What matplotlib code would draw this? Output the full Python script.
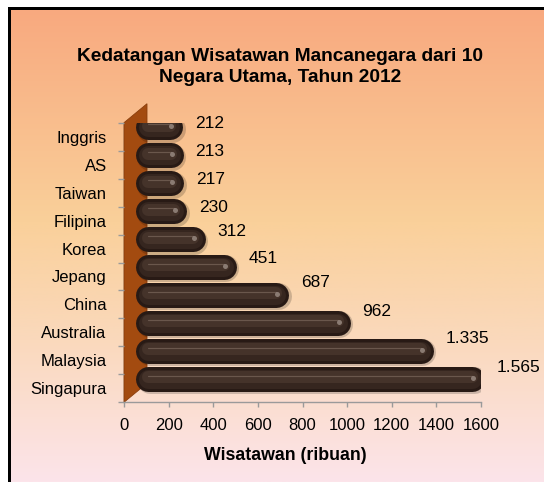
import matplotlib
matplotlib.use("Agg")
import matplotlib.pyplot as plt
import numpy as np
from matplotlib.colors import LinearSegmentedColormap
from matplotlib.patches import Polygon, Rectangle

OUT_PATH = "out.png"

# data, top to bottom as in the chart
countries = ["Inggris", "AS", "Taiwan", "Filipina", "Korea",
             "Jepang", "China", "Australia", "Malaysia", "Singapura"]
visitors = [212, 213, 217, 230, 312, 451, 687, 962, 1335, 1565]
x_ticks = [0, 200, 400, 600, 800, 1000, 1200, 1400, 1600]

TITLE = "Kedatangan Wisatawan Mancanegara dari 10\nNegara Utama, Tahun 2012"
XLABEL = "Wisatawan (ribuan)"

plt.rcParams["font.family"] = ["Liberation Sans", "DejaVu Sans"]

W, H, DPI = 544, 482, 100
fig = plt.figure(figsize=(W / DPI, H / DPI), dpi=DPI)
fig.patch.set_facecolor("white")

# gradient background (orange -> peach -> pink), framed top/left in black
bg = fig.add_axes([10.5 / W, 0, 1 - 10.5 / W, (H - 9.5) / H], zorder=0)
grad_cmap = LinearSegmentedColormap.from_list(
    "bg", [(0.0, "#F8A97F"), (0.45, "#FAD09A"), (0.7, "#FAD9BC"), (1.0, "#FCE4EA")])
bg.imshow(np.linspace(0, 1, 256).reshape(-1, 1), cmap=grad_cmap, aspect="auto",
          extent=(0, 1, 0, 1), origin="upper")
bg.set_axis_off()
fig.add_artist(Rectangle((7.5 / W, 0), 3 / W, (H - 7) / H, transform=fig.transFigure,
                         facecolor="black", edgecolor="none", zorder=1))
fig.add_artist(Rectangle((7.5 / W, (H - 10) / H), 1 - 7.5 / W, 3 / H,
                         transform=fig.transFigure, facecolor="black",
                         edgecolor="none", zorder=1))

# plot area
ax_l, ax_r, ax_t, ax_b = 124, 481, 122.7, 402.3
ax = fig.add_axes([ax_l / W, (H - ax_b) / H, (ax_r - ax_l) / W, (ax_b - ax_t) / H], zorder=2)
ax.patch.set_visible(False)

n = len(countries)
ypos = np.arange(n)
ax.set_xlim(0, 1600)
ax.set_ylim(n - 0.5, -0.5)

px_x = (ax_r - ax_l) / 1600          # pixels per visitor unit
px_y = (ax_b - ax_t) / n             # pixels per category band

# 3D look: wall depth and half-depth shift of the cylinders
depth_x, depth_y = 23 / px_x, 19 / px_y
wall = Polygon([(0, n - 0.5), (0, -0.5), (depth_x, -0.5 - depth_y), (depth_x, n - 0.5 - depth_y)],
               closed=True, facecolor="#A34B10", edgecolor="#8A3E0C", lw=0.6,
               clip_on=False, zorder=1)
ax.add_patch(wall)

bar_px = 25
r = (bar_px / 2) / px_x
off_x, off_y = depth_x / 2, depth_y / 2
pt = 72 / DPI

for yi, v in zip(ypos, visitors):
    yc = yi - off_y
    x0, x1 = off_x + r, v + off_x - r
    # soft shadow
    ax.plot([x0 + 1.5 / px_x, x1 + 1.5 / px_x], [yc + 1.5 / px_y] * 2, color="#000000",
            alpha=0.18, lw=(bar_px + 2) * pt, solid_capstyle="round", zorder=2)
    ax.plot([x0, x1], [yc, yc], color="#281A15", lw=bar_px * pt,
            solid_capstyle="round", zorder=3)
    ax.plot([x0, x1], [yc, yc], color="#36261F", lw=(bar_px - 6) * pt,
            solid_capstyle="round", zorder=3)
    ax.plot([x0, x1], [yc - 1.5 / px_y] * 2, color="#45332A", lw=(bar_px - 13) * pt,
            solid_capstyle="round", zorder=3)
    ax.plot([x0, x1], [yc - 3 / px_y] * 2, color="#6A574C", lw=1.2 * pt,
            solid_capstyle="round", zorder=4)
    ax.plot([x1 + 1 / px_x], [yc - 1 / px_y], marker="o", ms=5 * pt,
            mfc="#A89A92", mec="none", alpha=0.7, zorder=5)

# value labels, Indonesian thousands separator
label_lift = [3.5, 4, 3.5, 3.5, 7.5, 8.5, 12, 11.5, 12.5, 11.5]
for yi, v, lift in zip(ypos, visitors, label_lift):
    ax.annotate(f"{v:,}".replace(",", "."), xy=(v + off_x, yi - off_y),
                xytext=(12 * pt, lift * pt), textcoords="offset points",
                ha="left", va="center", fontsize=12.5, color="black",
                annotation_clip=False, zorder=6)

# axes styling
for side in ("top", "right"):
    ax.spines[side].set_visible(False)
for side in ("left", "bottom"):
    ax.spines[side].set_color("#9A9A9A")
    ax.spines[side].set_linewidth(1.0)
ax.spines["left"].set_zorder(0)

ax.set_xticks(x_ticks)
ax.set_xticklabels([str(t) for t in x_ticks])
ax.tick_params(axis="x", direction="out", length=5 * pt, width=1, color="#9A9A9A",
               pad=8, labelsize=12)
ax.set_yticks(ypos)
ax.set_yticklabels(countries)
ax.tick_params(axis="y", which="major", length=0, pad=12.5, labelsize=12)
ax.set_yticks(np.arange(n + 1) - 0.5, minor=True)
ax.tick_params(axis="y", which="minor", direction="out", length=6 * pt, width=1,
               color="#9A9A9A")

fig.text(280 / W, 1 - 48 / H, TITLE, ha="center", va="top", fontsize=13.8,
         fontweight="bold", linespacing=1.3)
fig.text(285 / W, 1 - 456 / H, XLABEL, ha="center", va="center", fontsize=12.8,
         fontweight="bold")

fig.savefig(OUT_PATH, dpi=DPI)
